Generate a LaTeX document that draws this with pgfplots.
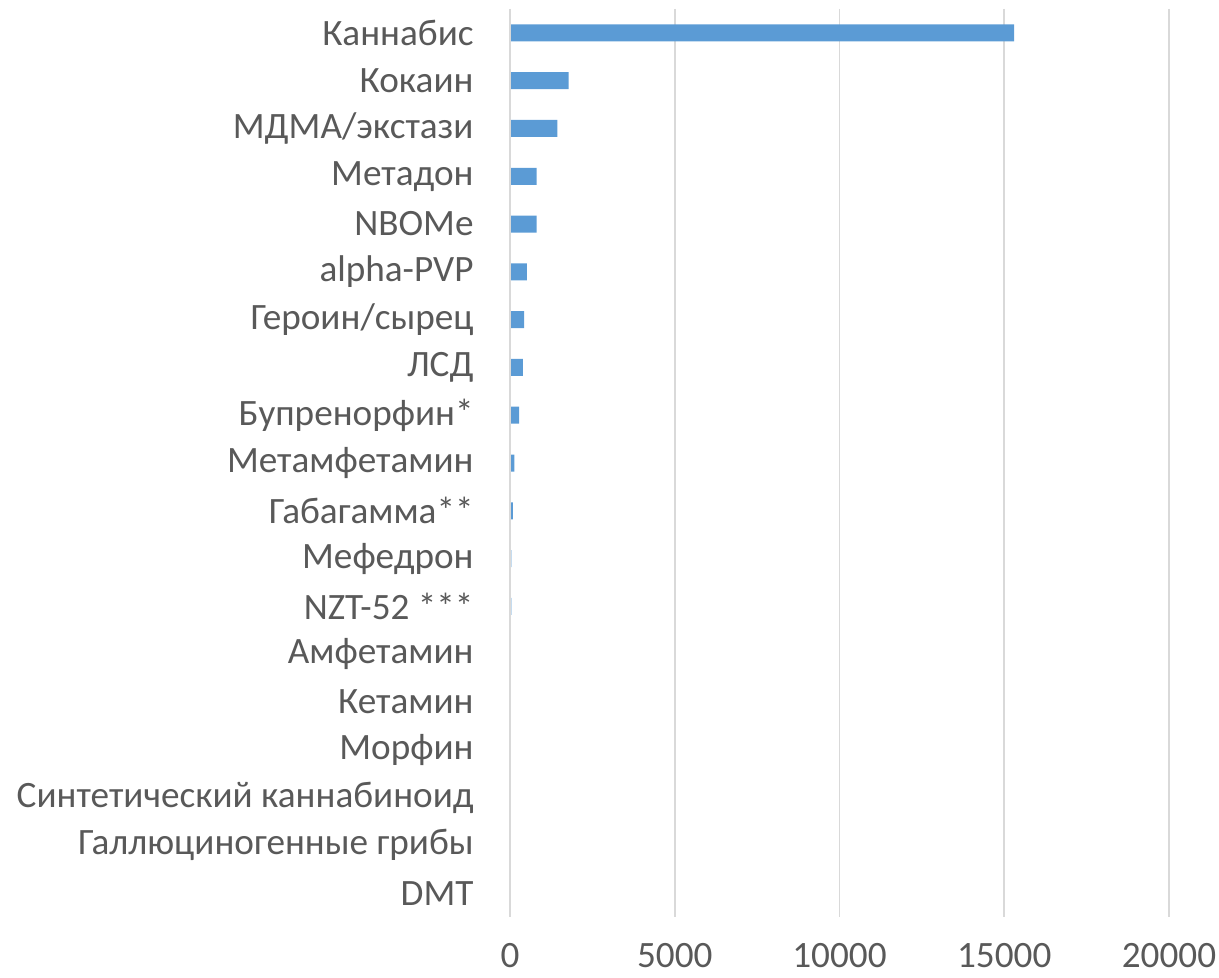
\documentclass[border=0pt]{standalone}
\usepackage{pgfplots}
\pgfplotsset{compat=1.18}
\usepackage{fontspec}
\setmainfont{Carlito}
\definecolor{barblue}{HTML}{5B9BD5}
\definecolor{txtgray}{HTML}{595959}
\definecolor{gridgray}{HTML}{D9D9D9}
\begin{document}
\begin{tikzpicture}
\begin{axis}[
  name=ax,
  at={(0,0)}, anchor=south west,
  scale only axis,
  width=329.5pt, height=454pt,
  xbar, bar width=8.5pt,
  xmin=0, xmax=20000,
  ymin=-0.5, ymax=18.5,
  y dir=reverse,
  ytick={0,...,18},
  yticklabels={Каннабис,Кокаин,МДМА/экстази,Метадон,NBOMe,alpha-PVP,Героин/сырец,ЛСД,Бупренорфин*,Метамфетамин,Габагамма**,Мефедрон,NZT-52 ***,Амфетамин,Кетамин,Морфин,Синтетический каннабиноид,Галлюциногенные грибы,DMT},
  xtick={0,5000,10000,15000,20000},
  scaled x ticks=false,
  /pgf/number format/assume math mode=true,
  /pgf/number format/1000 sep={},
  xmajorgrids, grid style={gridgray, line width=0.8pt},
  major tick length=0pt,
  axis line style={draw=none},
  ytick style={draw=none}, xtick style={draw=none},
  tick label style={font=\fontsize{18.6}{22}\selectfont, text=txtgray},
  yticklabel style={xshift=-14.7pt},
  xticklabel style={inner ysep=0pt, yshift=-13pt},
  clip=false,
]
\addplot[fill=barblue, draw=none] coordinates {
(15300,0) (1780,1) (1440,2) (805,3) (805,4) (510,5) (430,6) (390,7) (280,8) (130,9) (85,10) (40,11) (40,12) (30,13) (10,14) (10,15) (8,16) (5,17) (5,18)
};
\draw[gridgray, line width=1pt] (axis cs:0,-0.5) -- (axis cs:0,18.5);
\end{axis}
\pgfresetboundingbox
\path[use as bounding box] ([xshift=-255pt,yshift=-30.5pt]ax.south west) rectangle ([xshift=25pt,yshift=4.5pt]ax.north east);
\end{tikzpicture}
\end{document}
